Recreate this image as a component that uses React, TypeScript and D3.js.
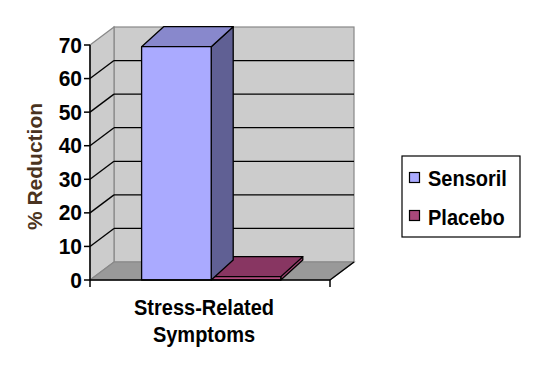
import React from "react";
import * as d3 from "d3";

const categories = ["Stress-Related Symptoms"];
const categoryLines = [["Stress-Related", "Symptoms"]];
const seriesNames = ["Sensoril", "Placebo"];
const sensorilValues = [69.5];
const placeboValues = [1];
const yTicks = [0, 10, 20, 30, 40, 50, 60, 70];
const yTitle = "% Reduction";

const seriesColors = [
  { front: "#AAAAFF", top: "#8888CC", side: "#606094" },
  { front: "#B04C7E", top: "#883662", side: "#A24474" },
];
const legendColors = ["#AAAAFF", "#A8487A"];

const W = 552;
const H = 367;
const FONT = "'Liberation Sans', Arial, Helvetica, sans-serif";

export default function App() {
  const x0Px = 90;
  const x1Px = 330;
  const y0Px = 280;
  const yTopPx = 45;
  const depthX = 24;
  const depthY = -18;
  const barDX = 22;
  const barDY = -20;

  const y = d3.scaleLinear().domain([0, 70]).range([y0Px, yTopPx]);
  const xCat = d3.scaleBand<string>().domain(categories).range([x0Px, x1Px]).padding(0);
  const bw = xCat.bandwidth();

  const seriesData = [sensorilValues, placeboValues];

  const wallFill = "#CCCCCC";
  const floorFill = "#999999";
  const edge = "#888888";

  const sideWall = [
    [x0Px, y(70)],
    [x0Px + depthX, y(70) + depthY],
    [x0Px + depthX, y(0) + depthY],
    [x0Px, y(0)],
  ];
  const floor = [
    [x0Px, y(0)],
    [x0Px + depthX, y(0) + depthY],
    [x1Px + depthX, y(0) + depthY],
    [x1Px, y(0)],
  ];
  const pts = (p: number[][]) => p.map((q) => q.join(",")).join(" ");

  return (
    <svg
      width={W}
      height={H}
      style={{ position: "absolute", left: 0, top: 0, background: "#fff" }}
      fontFamily={FONT}
    >
      {/* back wall */}
      <rect
        x={x0Px + depthX}
        y={y(70) + depthY}
        width={x1Px - x0Px}
        height={y(0) - y(70)}
        fill={wallFill}
        stroke={edge}
        strokeWidth={1.2}
      />
      {/* side wall */}
      <polygon points={pts(sideWall)} fill={wallFill} stroke={edge} strokeWidth={1.2} />
      {/* floor */}
      <polygon points={pts(floor)} fill={floorFill} stroke={edge} strokeWidth={1.2} />
      {/* gridlines */}
      {yTicks
        .filter((t) => t > 0 && t < 70)
        .map((t) => (
          <g key={"g" + t}>
            <line
              x1={x0Px}
              y1={y(t)}
              x2={x0Px + depthX}
              y2={y(t) + depthY}
              stroke="#000"
              strokeWidth={1.3}
            />
            <line
              x1={x0Px + depthX}
              y1={y(t) + depthY}
              x2={x1Px + depthX}
              y2={y(t) + depthY}
              stroke="#000"
              strokeWidth={1.3}
            />
          </g>
        ))}
      {/* floor right edge */}
      <line x1={x1Px} y1={y(0)} x2={x1Px + depthX} y2={y(0) + depthY} stroke="#000" strokeWidth={1.3} />

      {/* bars */}
      {categories.map((c, ci) => {
        const bandStart = xCat(c) as number;
        const inner = d3
          .scaleBand<string>()
          .domain(seriesNames)
          .range([bandStart + bw * 0.215, bandStart + bw * 0.795])
          .padding(0);
        const order = seriesNames.map((_, i) => i).reverse();
        return (
          <g key={c}>
            {order.map((si) => {
              const v = seriesData[si][ci];
              const xl = inner(seriesNames[si]) as number;
              const xr = xl + inner.bandwidth();
              const yt = y(v);
              const yb = y(0);
              const col = seriesColors[si];
              const top = [
                [xl, yt],
                [xl + barDX, yt + barDY],
                [xr + barDX, yt + barDY],
                [xr, yt],
              ];
              const side = [
                [xr, yt],
                [xr + barDX, yt + barDY],
                [xr + barDX, yb + barDY],
                [xr, yb],
              ];
              return (
                <g key={seriesNames[si]} stroke="#000" strokeWidth={1.3} strokeLinejoin="round">
                  <polygon points={pts(side)} fill={col.side} />
                  <polygon points={pts(top)} fill={col.top} />
                  <rect x={xl} y={yt} width={xr - xl} height={yb - yt} fill={col.front} />
                </g>
              );
            })}
          </g>
        );
      })}

      {/* axes */}
      <line x1={x0Px} y1={y(70)} x2={x0Px} y2={y(0)} stroke="#000" strokeWidth={1.5} />
      <line x1={x0Px} y1={y(0)} x2={x1Px} y2={y(0)} stroke="#000" strokeWidth={1.5} />
      <line x1={x0Px} y1={y(0)} x2={x0Px} y2={y(0) + 7} stroke="#000" strokeWidth={1.5} />
      <line x1={x1Px} y1={y(0)} x2={x1Px} y2={y(0) + 7} stroke="#000" strokeWidth={1.5} />
      {yTicks.map((t) => (
        <g key={"t" + t}>
          <line x1={x0Px - 6} y1={y(t)} x2={x0Px} y2={y(t)} stroke="#000" strokeWidth={1.5} />
          <text
            transform={`translate(${x0Px - 8},${y(t) + 7.5}) scale(1,1.06)`}
            textAnchor="end"
            fontSize={21}
            fontWeight="bold"
            fill="#000"
          >
            {t}
          </text>
        </g>
      ))}

      {/* category labels */}
      {categories.map((c, ci) => {
        const cx = (xCat(c) as number) + bw / 2 - 6;
        return (
          <g key={"cl" + c}>
            {categoryLines[ci].map((line, li) => (
              <text
                key={li}
                transform={`translate(${cx},${314.5 + li * 27}) scale(1,1.1)`}
                textAnchor="middle"
                fontSize={20}
                fontWeight="bold"
                fill="#000"
              >
                {line}
              </text>
            ))}
          </g>
        );
      })}

      {/* y title */}
      <text
        transform="translate(42,166.5) rotate(-90)"
        textAnchor="middle"
        fontSize={21}
        fontWeight="bold"
        fill="#4A3320"
      >
        {yTitle}
      </text>

      {/* legend */}
      <rect x={402} y={156} width={118} height={81} fill="#fff" stroke="#000" strokeWidth={1.2} />
      {seriesNames.map((s, i) => (
        <g key={"l" + s}>
          <rect
            x={409.5}
            y={172.5 + i * 38}
            width={10}
            height={10}
            fill={legendColors[i]}
            stroke="#000"
            strokeWidth={1.2}
          />
          <text
            transform={`translate(428,${186 + i * 39}) scale(1,1.1)`}
            fontSize={20}
            fontWeight="bold"
            fill="#000"
          >
            {s}
          </text>
        </g>
      ))}
    </svg>
  );
}
